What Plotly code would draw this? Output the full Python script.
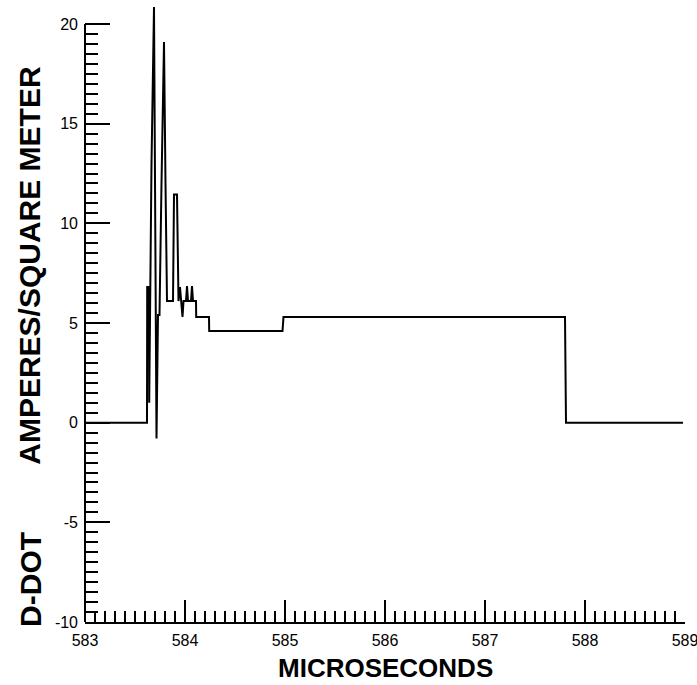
import plotly.graph_objects as go

# D-DOT waveform (microseconds, A/m^2)
time_us = [583.00, 583.62, 583.622, 583.64, 583.642, 583.652, 583.665, 583.69, 583.70,
           583.715, 583.73, 583.745, 583.765, 583.79, 583.805, 583.82, 583.88, 583.89,
           583.92, 583.935, 583.95, 583.96, 583.975, 583.985, 584.01, 584.02, 584.03,
           584.06, 584.07, 584.08, 584.11, 584.112, 584.24, 584.242, 584.975, 584.985,
           587.80, 587.81, 588.98]
ddot = [0.0, 0.0, 6.8, 6.8, 1.0, 6.5, 13.0, 20.85, 13.0,
        -0.8, 5.4, 5.4, 12.0, 19.1, 12.0, 6.1, 6.1, 11.45,
        11.45, 6.1, 6.8, 6.1, 5.3, 6.1, 6.1, 6.85, 6.1,
        6.1, 6.85, 6.1, 6.1, 5.3, 5.3, 4.6, 4.6, 5.3,
        5.3, 0.0, 0.0]

x_ticks = [583, 584, 585, 586, 587, 588, 589]
y_ticks = [-10, -5, 0, 5, 10, 15, 20]
y_minor = [v / 2 for v in range(-20, 41)]
x_title = "MICROSECONDS"
y_title_a = "D-DOT"
y_title_b = "AMPERES/SQUARE METER"

W, H = 697, 685
ml, mr, mt, mb = 85, 12, 0, 63
plot_h = H - mt - mb
axis_top_px = 24  # pixel row of the y=20 tick
y_hi = -10 + 30 * plot_h / (plot_h - axis_top_px)

fig = go.Figure()
fig.add_trace(go.Scatter(x=time_us, y=ddot, mode="lines",
                         line=dict(color="black", width=2), showlegend=False,
                         hoverinfo="skip"))

tickfont = dict(family="Liberation Sans, Arial, sans-serif", size=16, color="black")
fig.update_layout(
    width=W, height=H,
    margin=dict(l=ml, r=mr, t=mt, b=mb, autoexpand=False),
    paper_bgcolor="white", plot_bgcolor="rgba(0,0,0,0)",
    showlegend=False,
    xaxis=dict(range=[583, 589], tickvals=x_ticks,
               ticktext=[str(v) for v in x_ticks], automargin=False,
               ticklabeloverflow="allow", ticklabelstandoff=3,
               ticks="inside", ticklen=22, tickwidth=1.5, tickcolor="black",
               minor=dict(dtick=0.1, tick0=583, ticks="inside", ticklen=11,
                          tickwidth=1.5, tickcolor="black", showgrid=False),
               showline=True, linecolor="black", linewidth=2,
               showgrid=False, zeroline=False, tickfont=tickfont),
    yaxis=dict(range=[-10, y_hi], automargin=False,
               tickvals=y_ticks, ticktext=[str(v) for v in y_ticks],
               ticklabeloverflow="allow", ticklabelstandoff=6,
               ticks="inside", ticklen=25, tickwidth=1.5, tickcolor="black",
               minor=dict(tickvals=y_minor, ticks="inside", ticklen=13,
                          tickwidth=1.5, tickcolor="black", showgrid=False),
               showline=False, showgrid=False, zeroline=False, tickfont=tickfont),
)

# left axis line spanning only the labelled range
fig.add_shape(type="line", xref="paper", yref="y", x0=0, x1=0,
              y0=y_ticks[0], y1=y_ticks[-1], line=dict(color="black", width=2))

fig.add_annotation(text="<b>" + x_title + "</b>", xref="paper", yref="paper",
                   x=0.5, y=-0.074, xanchor="center", yanchor="middle",
                   showarrow=False,
                   font=dict(family="Liberation Sans, Arial, sans-serif", size=26, color="black"))
ytfont = dict(family="Liberation Sans, Arial, sans-serif", size=30, color="black")
fig.add_annotation(text="<b>" + y_title_a + "</b>", xref="paper", yref="paper",
                   x=-0.092, y=0.069, xanchor="center", yanchor="middle",
                   textangle=-90, showarrow=False, font=ytfont)
fig.add_annotation(text="<b>" + y_title_b + "</b>", xref="paper", yref="paper",
                   x=-0.092, y=0.574, xanchor="center", yanchor="middle",
                   textangle=-90, showarrow=False, font=ytfont)

fig.write_html("out.html", config={"displayModeBar": False},
               post_script="document.body.style.margin='0';document.body.style.overflow='hidden';")
